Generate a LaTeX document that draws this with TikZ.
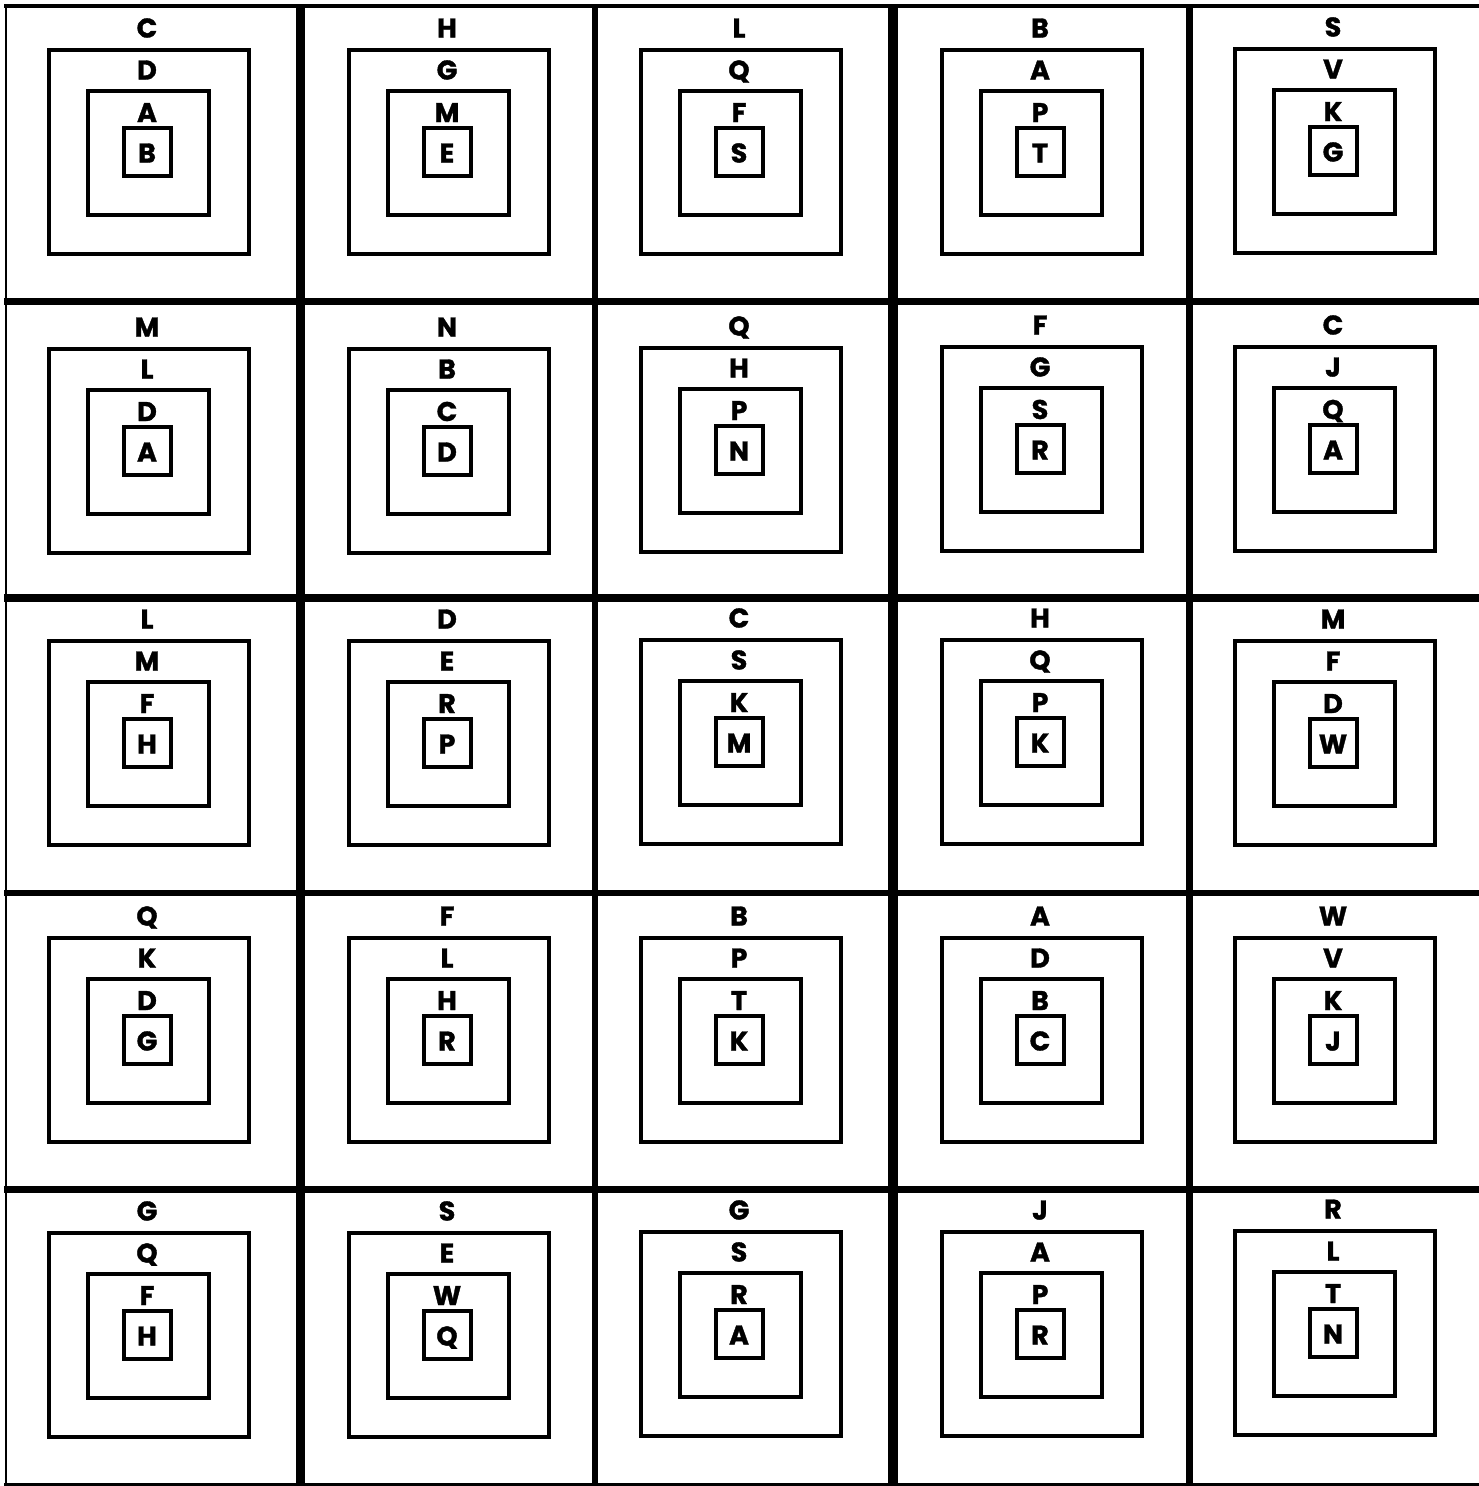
\documentclass[tikz,border=0pt]{standalone}
\usepackage{fontspec}
\setmainfont{Poppins}[BoldFeatures={FakeBold=1.3}]
\begin{document}
\begin{tikzpicture}[x=1pt,y=-1pt,
  sq/.style={draw=black,line width=4pt},
  lbl/.style={anchor=base,inner sep=0pt,font=\fontsize{27}{27}\selectfont\bfseries},
  hline/.style={draw=black},
  vline/.style={draw=black}]
\useasboundingbox[fill=white] (0,0) rectangle (1479,1486);
% horizontal grid lines
\draw[hline,line width=4pt] (4,6) -- (1479,6);
\draw[hline,line width=7pt] (4,301) -- (1479,301);
\draw[hline,line width=8pt] (4,598) -- (1479,598);
\draw[hline,line width=6pt] (4,893) -- (1479,893);
\draw[hline,line width=7pt] (4,1189) -- (1479,1189);
\draw[hline,line width=3pt] (4,1484) -- (1479,1484);
% vertical grid lines
\draw[vline,line width=1.5pt] (6,4) -- (6,1486);
\draw[vline,line width=9.5pt] (300.5,4) -- (300.5,1486);
\draw[vline,line width=6pt] (595,4) -- (595,1486);
\draw[vline,line width=9.5pt] (893,4) -- (893,1486);
\draw[vline,line width=7pt] (1189,4) -- (1189,1486);
% cells
\foreach \ox/\oy/\a/\b/\c/\d/\n in {
  47/48/C/D/A/B/c11, 347/48/H/G/M/E/c12, 639/48/L/Q/F/S/c13, 940/48/B/A/P/T/c14, 1233/47/S/V/K/G/c15,
  47/347/M/L/D/A/c21, 347/347/N/B/C/D/c22, 639/346/Q/H/P/N/c23, 940/345/F/G/S/R/c24, 1233/345/C/J/Q/A/c25,
  47/639/L/M/F/H/c31, 347/639/D/E/R/P/c32, 639/638/C/S/K/M/c33, 940/638/H/Q/P/K/c34, 1233/639/M/F/D/W/c35,
  47/936/Q/K/D/G/c41, 347/936/F/L/H/R/c42, 639/936/B/P/T/K/c43, 940/936/A/D/B/C/c44, 1233/936/W/V/K/J/c45,
  47/1231/G/Q/F/H/c51, 347/1231/S/E/W/Q/c52, 639/1230/G/S/R/A/c53, 940/1230/J/A/P/R/c54, 1233/1229/R/L/T/N/c55}
{
  \draw[sq] (\ox+2,\oy+2) rectangle (\ox+202,\oy+206);
  \draw[sq] (\ox+41,\oy+43) rectangle (\ox+162,\oy+167);
  \draw[sq] (\ox+77,\oy+80) rectangle (\ox+124,\oy+128);
  \node[lbl] (\n-1) at (\ox+100,\oy-10.5) {\a};
  \node[lbl] (\n-2) at (\ox+100,\oy+31.5) {\b};
  \node[lbl] (\n-3) at (\ox+100,\oy+74) {\c};
  \node[lbl] (\n-4) at (\ox+100,\oy+114.5) {\d};
}
\end{tikzpicture}
\end{document}
